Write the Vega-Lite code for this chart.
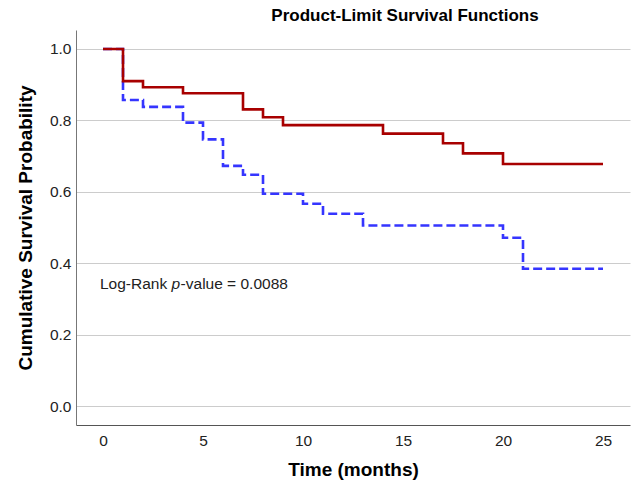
{
  "$schema": "https://vega.github.io/schema/vega-lite/v6.json",
  "width": 554,
  "height": 395,
  "autosize": "none",
  "padding": {"left": 76, "top": 30, "right": 2, "bottom": 58},
  "background": "white",
  "config": {
    "view": {"stroke": null},
    "font": "Liberation Sans"
  },
  "title": {
    "text": "Product-Limit Survival Functions",
    "fontSize": 17,
    "fontWeight": "bold",
    "color": "#000000",
    "anchor": "middle",
    "dx": 52,
    "offset": 5
  },
  "datasets": {
    "curves": [
      {"group": "A", "t": 0, "s": 1.0},
      {"group": "A", "t": 1, "s": 0.910},
      {"group": "A", "t": 2, "s": 0.893},
      {"group": "A", "t": 4, "s": 0.876},
      {"group": "A", "t": 7, "s": 0.831},
      {"group": "A", "t": 8, "s": 0.809},
      {"group": "A", "t": 9, "s": 0.787},
      {"group": "A", "t": 14, "s": 0.763},
      {"group": "A", "t": 17, "s": 0.736},
      {"group": "A", "t": 18, "s": 0.708},
      {"group": "A", "t": 20, "s": 0.678},
      {"group": "A", "t": 25, "s": 0.678},
      {"group": "B", "t": 0, "s": 1.0},
      {"group": "B", "t": 1, "s": 0.857},
      {"group": "B", "t": 2, "s": 0.838},
      {"group": "B", "t": 4, "s": 0.794},
      {"group": "B", "t": 5, "s": 0.747},
      {"group": "B", "t": 6, "s": 0.673},
      {"group": "B", "t": 7, "s": 0.648},
      {"group": "B", "t": 8, "s": 0.595},
      {"group": "B", "t": 10, "s": 0.567},
      {"group": "B", "t": 11, "s": 0.539},
      {"group": "B", "t": 13, "s": 0.506},
      {"group": "B", "t": 20, "s": 0.472},
      {"group": "B", "t": 21, "s": 0.385},
      {"group": "B", "t": 25, "s": 0.385}
    ],
    "note": [{"label": "Log-Rank p-value = 0.0088"}]
  },
  "data": {"name": "curves"},
  "layer": [
    {
      "mark": {"type": "line", "interpolate": "step-after", "strokeWidth": 2.6, "clip": true},
      "transform": [{"filter": "datum.group === 'B'"}],
      "encoding": {
        "x": {"field": "t", "type": "quantitative"},
        "y": {"field": "s", "type": "quantitative"},
        "color": {"value": "#3535ff"},
        "strokeDash": {"value": [9, 4]}
      }
    },
    {
      "mark": {"type": "line", "interpolate": "step-after", "strokeWidth": 2.6, "clip": true},
      "transform": [{"filter": "datum.group === 'A'"}],
      "encoding": {
        "x": {
          "field": "t",
          "type": "quantitative",
          "scale": {"domain": [-1.35, 26.35], "nice": false, "zero": false},
          "axis": {
            "title": "Time (months)",
            "values": [0, 5, 10, 15, 20, 25],
            "grid": false,
            "ticks": false,
            "domainColor": "#555555",
            "domainWidth": 1,
            "labelFontSize": 15.5,
            "labelColor": "#222222",
            "labelPadding": 8,
            "titleFontSize": 19,
            "titleFontWeight": "bold",
            "titleColor": "#000000",
            "titlePadding": 12
          }
        },
        "y": {
          "field": "s",
          "type": "quantitative",
          "scale": {"domain": [-0.052, 1.053], "nice": false, "zero": false},
          "axis": {
            "title": "Cumulative Survival Probability",
            "values": [0, 0.2, 0.4, 0.6, 0.8, 1.0],
            "format": ".1f",
            "grid": true,
            "gridColor": "#cccccc",
            "gridWidth": 1,
            "ticks": false,
            "domainColor": "#777777",
            "domainWidth": 1,
            "labelFontSize": 15.5,
            "labelColor": "#222222",
            "labelPadding": 5,
            "titleFontSize": 19,
            "titleFontWeight": "bold",
            "titleColor": "#000000",
            "titlePadding": 14
          }
        },
        "color": {"value": "#a80000"}
      }
    },
    {
      "data": {"name": "note"},
      "mark": {"type": "text", "align": "left", "baseline": "middle", "fontSize": 15.5, "color": "#222222"},
      "encoding": {
        "x": {"datum": -0.15},
        "y": {"datum": 0.343},
        "text": {"value": "Log-Rank"}
      }
    },
    {
      "data": {"name": "note"},
      "mark": {"type": "text", "align": "left", "baseline": "middle", "fontSize": 15.5, "fontStyle": "italic", "color": "#222222"},
      "encoding": {
        "x": {"datum": 3.43},
        "y": {"datum": 0.343},
        "text": {"value": "p"}
      }
    },
    {
      "data": {"name": "note"},
      "mark": {"type": "text", "align": "left", "baseline": "middle", "fontSize": 15.5, "color": "#222222"},
      "encoding": {
        "x": {"datum": 3.88},
        "y": {"datum": 0.343},
        "text": {"value": "-value = 0.0088"}
      }
    }
  ]
}
